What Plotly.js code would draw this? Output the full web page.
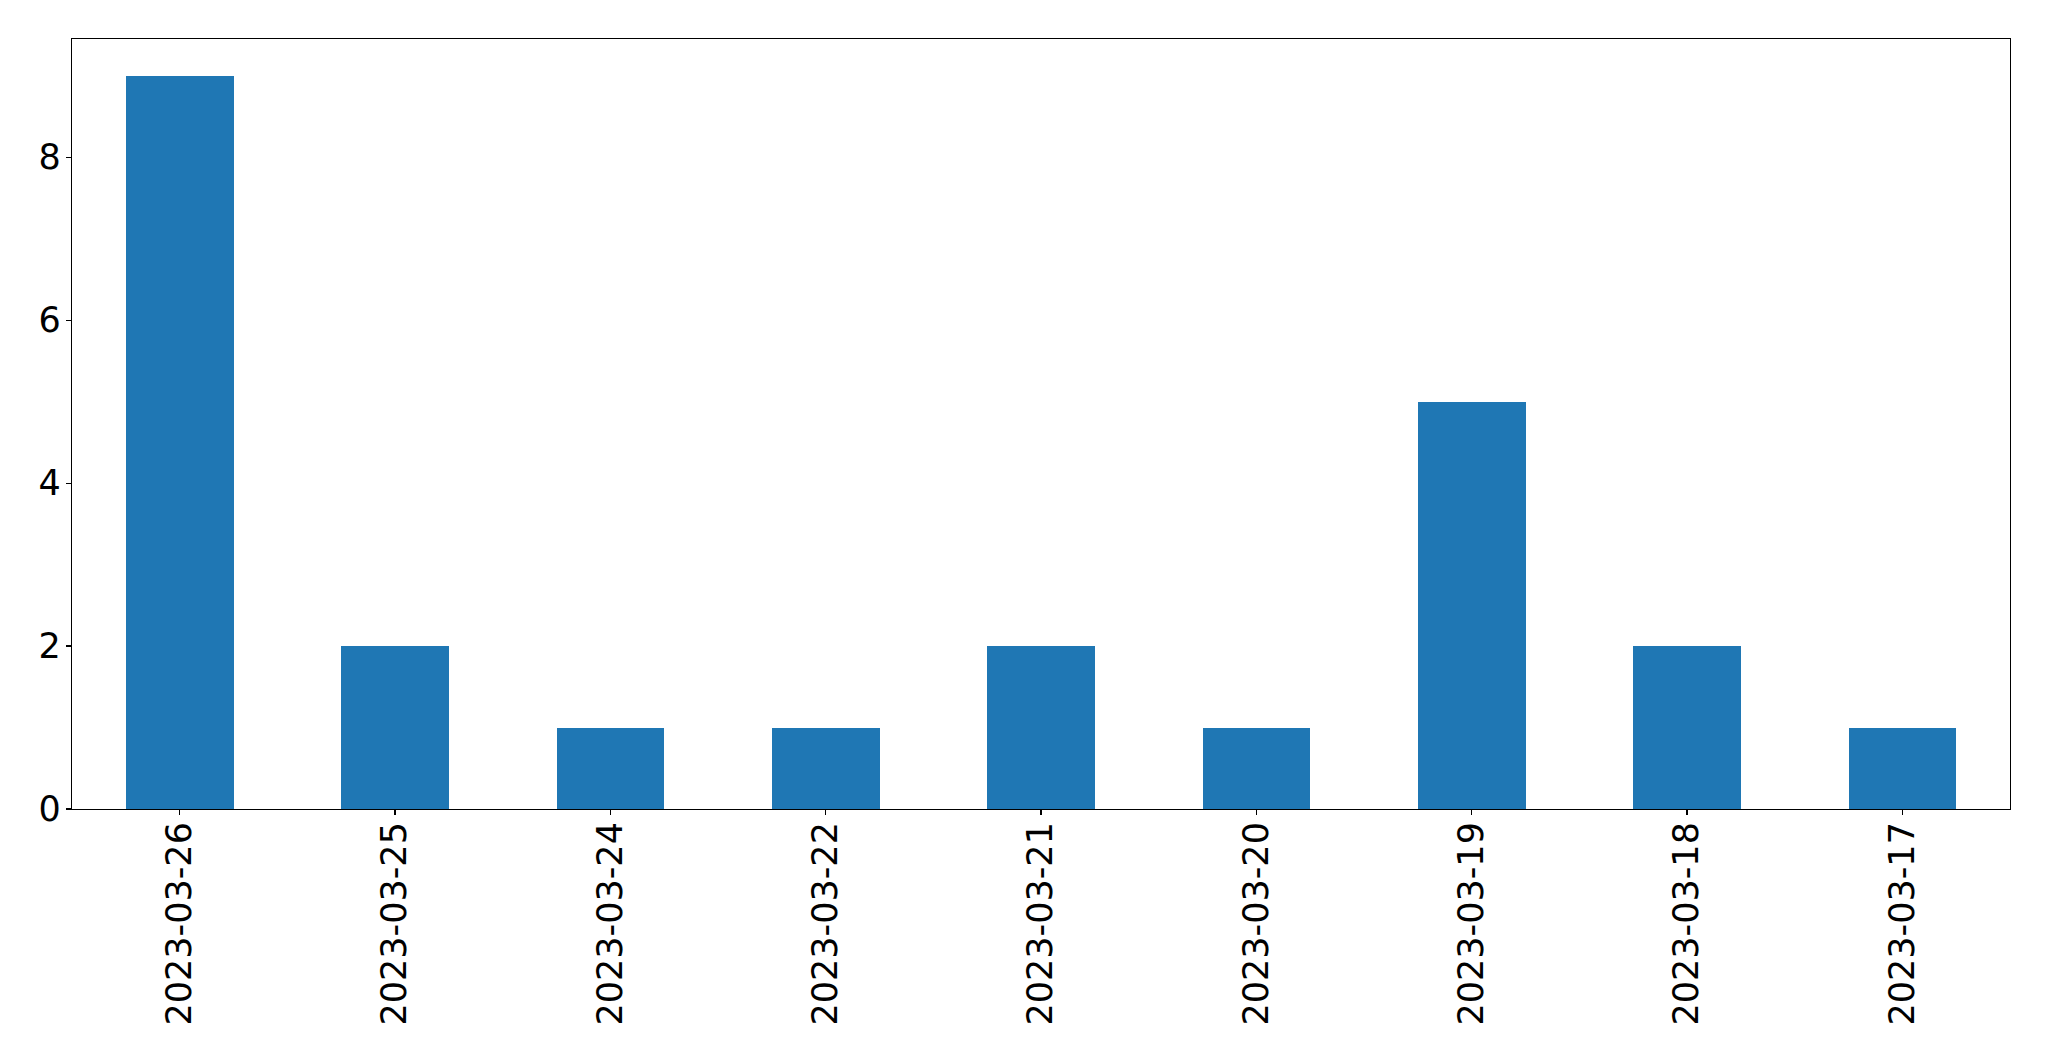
<!DOCTYPE html>
<html>
<head>
<meta charset="utf-8">
<script src="https://cdn.plot.ly/plotly-3.0.1.min.js"></script>
<style>html,body{margin:0;padding:0;background:#fff;}#chart{width:2049px;height:1061px;}</style>
</head>
<body>
<div id="chart"></div>
<script>
const categories = ["2023-03-26","2023-03-25","2023-03-24","2023-03-22","2023-03-21","2023-03-20","2023-03-19","2023-03-18","2023-03-17"];
const counts = [9, 2, 1, 1, 2, 1, 5, 2, 1];
const yTickVals = [0, 2, 4, 6, 8];

const trace = {
  type: 'bar',
  x: categories,
  y: counts,
  width: 0.5,
  marker: {color: '#1f77b4', line: {width: 0}},
  hoverinfo: 'x+y'
};

const axisCommon = {
  showline: true,
  linecolor: '#000',
  linewidth: 1.1,
  mirror: true,
  ticks: 'outside',
  ticklen: 5,
  tickwidth: 1.1,
  tickcolor: '#000',
  showgrid: false,
  zeroline: false,
  tickfont: {family: 'DejaVu Sans', size: 35, color: '#000'}
};

const layout = {
  width: 2049,
  height: 1061,
  margin: {l: 72, r: 39, t: 39, b: 252, pad: 0},
  paper_bgcolor: '#fff',
  plot_bgcolor: '#fff',
  showlegend: false,
  bargap: 0,
  xaxis: Object.assign({}, axisCommon, {
    type: 'category',
    range: [-0.5, 8.5],
    tickangle: -90,
    ticklabelstandoff: -7
  }),
  yaxis: Object.assign({}, axisCommon, {
    range: [0, 9.45],
    tickmode: 'array',
    tickvals: yTickVals,
    ticktext: yTickVals.map(String),
    ticklabelstandoff: -2
  })
};

Plotly.newPlot('chart', [trace], layout, {displayModeBar: false, staticPlot: true});
</script>
</body>
</html>
